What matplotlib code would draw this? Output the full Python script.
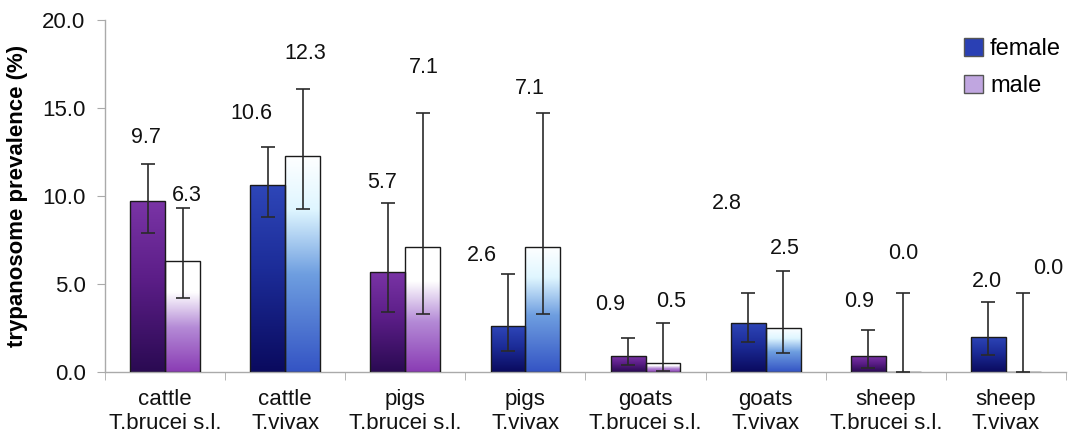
import numpy as np
import matplotlib
matplotlib.use("Agg")
import matplotlib.pyplot as plt
from matplotlib.colors import LinearSegmentedColormap
from matplotlib.patches import Patch

plt.rcParams['font.family'] = ['Liberation Sans', 'DejaVu Sans']

# ---- data ----
hosts = ["cattle", "cattle", "pigs", "pigs", "goats", "goats", "sheep", "sheep"]
species = ["T.brucei s.l.", "T.vivax", "T.brucei s.l.", "T.vivax",
           "T.brucei s.l.", "T.vivax", "T.brucei s.l.", "T.vivax"]
female = [9.7, 10.6, 5.7, 2.6, 0.9, 2.8, 0.9, 2.0]
male = [6.3, 12.3, 7.1, 7.1, 0.5, 2.5, 0.0, 0.0]
female_lo = [7.9, 8.8, 3.4, 1.2, 0.4, 1.7, 0.25, 0.95]
female_hi = [11.8, 12.8, 9.6, 5.55, 1.95, 4.5, 2.4, 4.0]
male_lo = [4.2, 9.25, 3.3, 3.3, 0.05, 1.1, 0.0, 0.0]
male_hi = [9.3, 16.1, 14.7, 14.7, 2.8, 5.75, 4.5, 4.5]

# ---- layout of the value labels (placed by hand in the original) ----
f_lab_dx = [-0.015, -0.14, -0.045, -0.22, -0.15, -0.175, -0.08, -0.01]
f_lab_y = [13.3, 14.7, 10.75, 6.6, 3.85, 9.6, 4.0, 5.15]
m_lab_dx = [0.035, 0.02, 0.01, -0.11, 0.065, 0.015, 0.0, 0.21]
m_lab_y = [10.05, 18.1, 17.3, 16.1, 4.0, 7.0, 6.75, 5.9]

# colour schemes: T.brucei groups purple, T.vivax groups blue
fem_cols = {"T.brucei s.l.": [(0, "#2a0a52"), (0.55, "#5c1e88"), (1, "#7a34a6")],
            "T.vivax": [(0, "#0a0a5e"), (0.55, "#1c2c98"), (1, "#2e46b8")]}
male_cols = {"T.brucei s.l.": [(0, "#8a3cb4"), (0.4, "#b48ad6"), (0.72, "#ffffff"), (1, "#ffffff")],
             "T.vivax": [(0, "#3454c4"), (0.45, "#6e9ee0"), (0.75, "#dff6ff"), (1, "#ffffff")]}

W = 0.29
grad = np.linspace(0, 1, 256).reshape(-1, 1)


def grad_bar(ax, x, h, stops):
    bar = ax.bar(x, h, W, facecolor="none", edgecolor="#1a1a1a", lw=1.0, zorder=3)[0]
    if h <= 0:
        return
    cmap = LinearSegmentedColormap.from_list("g", stops)
    im = ax.imshow(grad, cmap=cmap, origin="lower", aspect="auto",
                   extent=[x - W / 2, x + W / 2, 0, h], zorder=2)
    im.set_clip_path(bar)


fig = plt.figure(figsize=(10.75, 4.43), dpi=100)
ax = fig.add_axes([0.0977, 0.16, 0.8939, 0.795])

x = np.arange(len(hosts))
for i in range(len(hosts)):
    xf = x[i] - W / 2
    xm = x[i] + W / 2
    grad_bar(ax, xf, female[i], fem_cols[species[i]])
    grad_bar(ax, xm, male[i], male_cols[species[i]])

    ax.errorbar(xf, female[i], yerr=[[female[i] - female_lo[i]], [female_hi[i] - female[i]]],
                fmt="none", ecolor="#2a2a2a", elinewidth=1.2, capsize=5, capthick=1.2, zorder=4)
    ax.errorbar(xm, male[i], yerr=[[male[i] - male_lo[i]], [male_hi[i] - male[i]]],
                fmt="none", ecolor="#2a2a2a", elinewidth=1.2, capsize=5, capthick=1.2, zorder=4)

    ax.text(xf + f_lab_dx[i], f_lab_y[i], "%.1f" % female[i], ha="center", va="center",
            fontsize=15.5, color="#111111")
    ax.text(xm + m_lab_dx[i], m_lab_y[i], "%.1f" % male[i], ha="center", va="center",
            fontsize=15.5, color="#111111")

ax.set_xlim(-0.5, len(hosts) - 0.5)
ax.set_ylim(0, 20)

ax.set_yticks([0, 5, 10, 15, 20])
ax.set_yticklabels(["%.1f" % v for v in [0, 5, 10, 15, 20]], fontsize=16, color="#111111")
ax.set_xticks(x)
ax.set_xticklabels([h + "\n" + s for h, s in zip(hosts, species)], fontsize=16,
                   color="#111111", linespacing=1.2)
ax.set_xticks(np.arange(-0.5, len(hosts)), minor=True)
ax.tick_params(axis="x", which="major", length=0, pad=12)
ax.tick_params(axis="x", which="minor", length=6, color="#aaaaaa", direction="out")
ax.tick_params(axis="y", length=6, color="#aaaaaa", pad=8)

for s in ["top", "right"]:
    ax.spines[s].set_visible(False)
for s in ["left", "bottom"]:
    ax.spines[s].set_color("#aaaaaa")
    ax.spines[s].set_linewidth(1.0)

ax.set_ylabel("trypanosome prevalence (%)", fontsize=16, fontweight="bold", labelpad=10)

handles = [Patch(facecolor="#2a40b4", edgecolor="#555555"),
           Patch(facecolor="#c0a6e0", edgecolor="#555555")]
ax.legend(handles, ["female", "male"], loc="upper right", bbox_to_anchor=(1.012, 0.995),
          frameon=False, fontsize=17, handlelength=0.8, handleheight=0.8,
          handletextpad=0.3, labelspacing=0.6, borderaxespad=0.3)

fig.savefig("out.png", dpi=100)
